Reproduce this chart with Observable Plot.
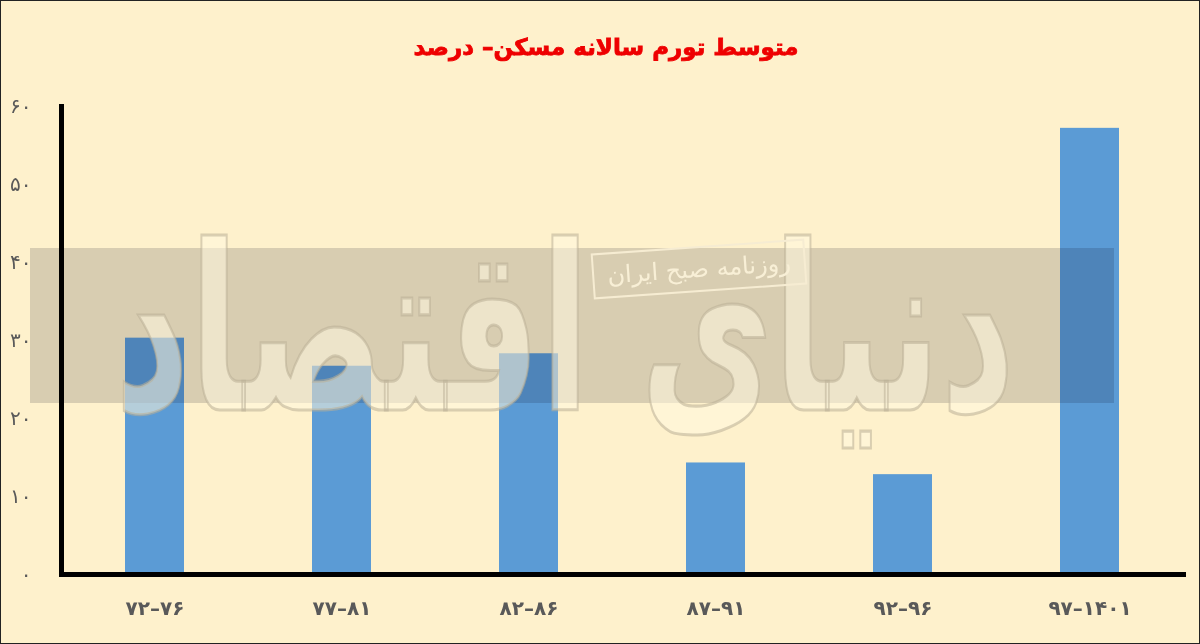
<!DOCTYPE html>
<html>
<head>
<meta charset="utf-8">
<script src="https://cdn.jsdelivr.net/npm/d3@7"></script>
<script src="https://cdn.jsdelivr.net/npm/@observablehq/plot@0.6"></script>
<style>
  html, body { margin: 0; padding: 0; background: #fef1cc; }
  #wrap { position: relative; width: 1200px; height: 644px; background: #fef1cc; overflow: hidden; }
  #border { position: absolute; left: 0; top: 0; width: 1200px; height: 644px; box-sizing: border-box; border: 1px solid #222; z-index: 10; pointer-events: none; }
  #title { position: absolute; left: 0; top: 0; width: 1200px; height: 90px; line-height: 94px; text-align: center; direction: rtl;
           font-family: "DejaVu Sans", sans-serif; font-weight: bold; font-size: 23px; color: #ee0000;
           -webkit-text-stroke: 0.8px #ee0000; padding-left: 12px; box-sizing: border-box; }
  #chart { position: absolute; left: 0; top: 90px; }
  #band { position: absolute; left: 30px; top: 248px; width: 1084px; height: 155px; background: #d9d9de; mix-blend-mode: multiply; z-index: 3; }
  #logo { position: absolute; left: 0; top: 0; z-index: 4; pointer-events: none; }
  #stamp { position: absolute; left: 592px; top: 246px; width: 210px; height: 42px; border: 2px solid #f6ecd2; color: #f8efd6;
           font-family: "DejaVu Sans", sans-serif; font-size: 24px; line-height: 42px; text-align: center; direction: rtl;
           transform: rotate(-4deg); z-index: 5; }
</style>
</head>
<body>
<div id="wrap">
  <div id="title"></div>
  <div id="chart"></div>
  <div id="band"></div>
  <svg id="logo" width="1200" height="644">
    <g id="logoG">
      <text id="logoText" x="0" y="0" text-anchor="middle" direction="rtl" font-family="DejaVu Sans" font-weight="bold"
            font-size="120" fill="#fff7de" fill-opacity="0.55" stroke="#b9ae95" stroke-opacity="0.55" stroke-width="1.6"></text>
    </g>
  </svg>
  <div id="stamp"></div>
  <div id="border"></div>
</div>
<script>
const titleText = "متوسط تورم سالانه مسکن– درصد";
const categories = ["۷۲–۷۶", "۷۷–۸۱", "۸۲–۸۶", "۸۷–۹۱", "۹۲–۹۶", "۹۷–۱۴۰۱"];
const values = [30.3, 26.7, 28.3, 14.3, 12.8, 57.2];
const yTicks = [0, 10, 20, 30, 40, 50, 60];
const yTickLabels = ["۰", "۱۰", "۲۰", "۳۰", "۴۰", "۵۰", "۶۰"];
const watermarkName = "دنیای اقتصاد";
const watermarkStamp = "روزنامه صبح ایران";

document.getElementById("title").textContent = titleText;
document.getElementById("stamp").textContent = watermarkStamp;
const logoText = document.getElementById("logoText");
logoText.textContent = watermarkName;
const natural = logoText.getComputedTextLength() || 600;
const sx = 900 / natural, sy = 230 / 120;
document.getElementById("logoG").setAttribute("transform", `translate(565,410) scale(${sx},${sy})`);

const data = categories.map((c, i) => ({category: c, value: values[i]}));

const chart = Plot.plot({
  width: 1200,
  height: 554,
  marginTop: 16,
  marginBottom: 70,
  marginLeft: 61,
  marginRight: 17,
  style: {background: "transparent", fontFamily: "DejaVu Sans, sans-serif"},
  x: {domain: categories, paddingInner: 0.684, paddingOuter: 0.342, label: null},
  y: {domain: [0, 60], label: null},
  marks: [
    Plot.barY(data, {x: "category", y: "value", fill: "#5b9bd5"}),
    Plot.axisY({ticks: yTicks, tickSize: 0, tickPadding: 30, label: null,
      tickFormat: d => yTickLabels[yTicks.indexOf(d)], fontSize: 20, fill: "#595959"}),
    Plot.axisX({tickSize: 0, tickPadding: 26, label: null, fontSize: 20, fontWeight: "bold", fill: "#595959"}),
    Plot.frame({anchor: "left", stroke: "#000", strokeWidth: 5, strokeLinecap: "square"}),
    Plot.frame({anchor: "bottom", stroke: "#000", strokeWidth: 5})
  ]
});
document.getElementById("chart").appendChild(chart);
</script>
</body>
</html>
